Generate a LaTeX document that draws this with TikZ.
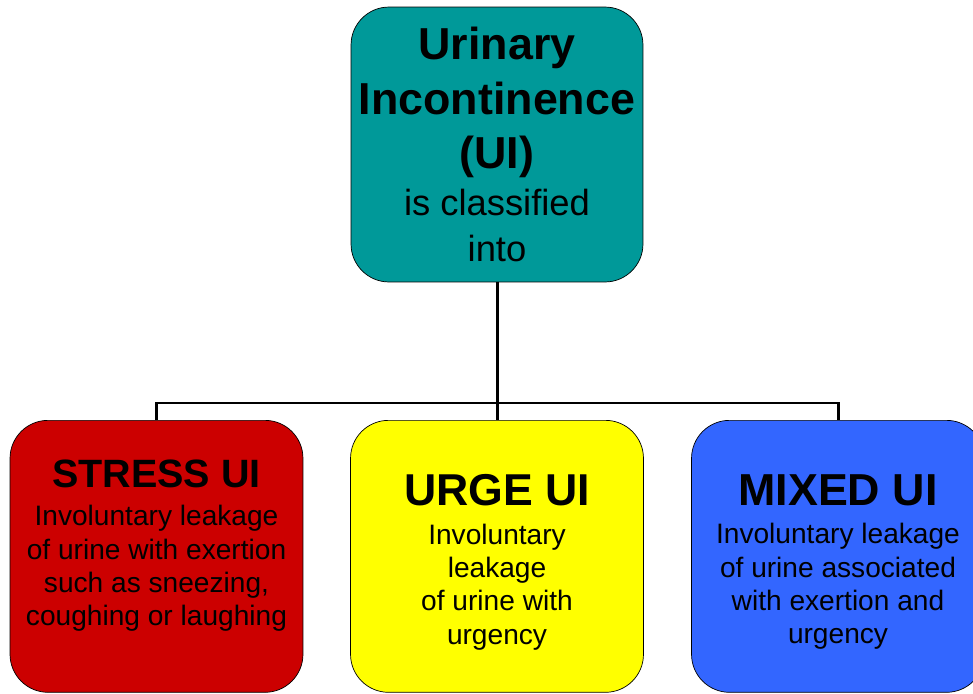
\documentclass[tikz,border=0pt]{standalone}
\usepackage{fontspec}
\setmainfont{Liberation Sans}
\usetikzlibrary{positioning}
\definecolor{uiteal}{RGB}{0,153,153}
\definecolor{stressred}{RGB}{204,0,0}
\definecolor{urgeyellow}{RGB}{255,255,0}
\definecolor{mixedblue}{RGB}{51,102,255}
\begin{document}
\begin{tikzpicture}[x=0.02cm, y=-0.02cm, main/.style={draw, thin, rounded corners=0.76cm, minimum width=5.84cm, minimum height=5.5cm, align=center, inner sep=0pt}, kind/.style={draw, thin, rounded corners=0.76cm, minimum width=5.86cm, minimum height=5.44cm, anchor=north}, kindtext/.style={align=center, inner sep=0pt, font=\fontsize{16}{19}\selectfont}]
	\useasboundingbox (0,0) rectangle (973,693);
	\clip (0,0) rectangle (973,693);
	\node[main, fill=uiteal, font=\fontsize{20.7}{26}\selectfont] (UI) at (497,144.5) {{\fontsize{25.5}{31}\selectfont\bfseries Urinary}\\[5pt]{\fontsize{25.5}{31}\selectfont\bfseries Incontinence}\\[5pt]{\fontsize{25.5}{31}\selectfont\bfseries (UI)}\\[0.6pt]is classified\\into};
	\node[kind, fill=stressred] (S) at (156.5,420) {};
	\node[kind, fill=urgeyellow] (U) at (497,420) {};
	\node[kind, fill=mixedblue] (M) at (838,420) {};
	\node[kindtext, below=0.8cm of S.north] (S-txt) {{\fontsize{22.5}{27}\selectfont\bfseries STRESS UI}\\[2.5pt]Involuntary leakage\\of urine with exertion\\such as sneezing,\\coughing or laughing};
	\node[kindtext, below=1.08cm of U.north] (U-txt) {{\fontsize{25.4}{30}\selectfont\bfseries URGE UI}\\[3pt]Involuntary\\leakage\\of urine with\\urgency};
	\node[kindtext, below=1.08cm of M.north] (M-txt) {{\fontsize{25.5}{30}\selectfont\bfseries MIXED UI}\\[3pt]Involuntary leakage\\of urine associated\\with exertion and\\urgency};
	\coordinate (bus) at (497,403);
	\draw[line width=1.7pt] (UI.south) -- (bus);
	\draw[line width=1.7pt] (S.north) |- (bus) -| (M.north);
	\draw[line width=1.7pt] (bus) -- (U.north);
\end{tikzpicture}
\end{document}
